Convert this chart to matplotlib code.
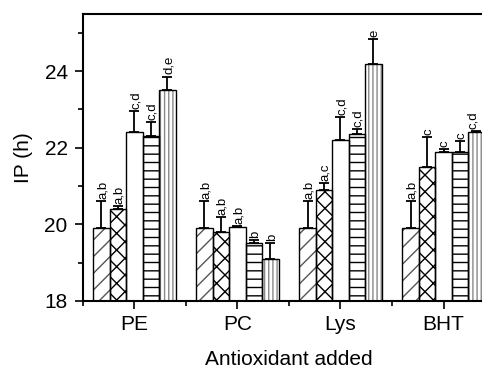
import matplotlib
matplotlib.use("Agg")
import matplotlib.pyplot as plt
import numpy as np

plt.rcParams["font.family"] = ["Liberation Sans", "DejaVu Sans"]

antioxidants = ["PE", "PC", "Lys", "BHT"]

# induction period (h) per antioxidant, five concentration levels each
ip_level1 = [19.9, 19.9, 19.9, 19.9]
ip_level2 = [20.4, 19.8, 20.9, 21.5]
ip_level3 = [22.4, 19.92, 22.2, 21.9]
ip_level4 = [22.3, 19.5, 22.37, 21.9]
ip_level5 = [23.5, 19.1, 24.2, 22.4]

sd_level1 = [0.7, 0.7, 0.7, 0.7]
sd_level2 = [0.08, 0.38, 0.18, 0.78]
sd_level3 = [0.57, 0.03, 0.6, 0.07]
sd_level4 = [0.38, 0.1, 0.13, 0.27]
sd_level5 = [0.36, 0.4, 0.65, 0.03]

letters_level1 = ["a,b", "a,b", "a,b", "a,b"]
letters_level2 = ["a,b", "a,b", "a,c", "c"]
letters_level3 = ["c,d", "a,b", "c,d", "c"]
letters_level4 = ["c,d", "b", "c,d", "c"]
letters_level5 = ["d,e", "b", "e", "c,d"]

series = [
    (ip_level1, sd_level1, letters_level1, "//", "#555555"),
    (ip_level2, sd_level2, letters_level2, "xx", "black"),
    (ip_level3, sd_level3, letters_level3, "", "black"),
    (ip_level4, sd_level4, letters_level4, "--", "black"),
    (ip_level5, sd_level5, letters_level5, "||||", "#888888"),
]

fig = plt.figure(figsize=(4.82, 3.71), dpi=100)
ax = fig.add_axes([0.172, 0.189, 0.855, 0.774])

x = np.arange(1, len(antioxidants) + 1)
width = 0.16
for i, (vals, errs, letters, hatch, hcolor) in enumerate(series):
    pos = x + (i - 2) * width
    # hatch layer in its own colour, then a plain black outline on top
    ax.bar(pos, vals, width, color="white", edgecolor=hcolor, hatch=hatch,
           linewidth=0, zorder=2)
    ax.bar(pos, vals, width, fill=False, edgecolor="black", linewidth=1.0,
           zorder=3)
    ax.errorbar(pos, vals, yerr=[np.zeros(len(vals)), errs], fmt="none",
                ecolor="black", elinewidth=1.3, capsize=3.5, capthick=1.3,
                zorder=4)
    for p, v, e, t in zip(pos, vals, errs, letters):
        # the last bar runs past the figure edge; keep its letters inside
        dx = -2.5 if p > 4.2 else 1
        ax.annotate(t, (p, v + e), xytext=(dx, 1.5), textcoords="offset points",
                    rotation=90, ha="center", va="bottom", fontsize=9.5)

ax.set_xlim(0.5, 4.5)
ax.set_ylim(18, 25.5)
ax.set_xticks(x)
ax.set_xticklabels(antioxidants)
ax.set_xticks(np.arange(0.5, 5.0, 1.0), minor=True)
ax.set_yticks([18, 20, 22, 24])
ax.set_yticks([19, 21, 23, 25], minor=True)
ax.tick_params(which="major", direction="out", length=6, width=1.2,
               labelsize=15)
ax.tick_params(axis="y", which="major", pad=5)
ax.tick_params(axis="x", which="major", pad=4)
ax.tick_params(which="minor", direction="out", length=3.5, width=1.2)
for s in ax.spines.values():
    s.set_linewidth(1.5)

ax.set_xlabel("Antioxidant added", fontsize=15, labelpad=12)
ax.set_ylabel("IP (h)", fontsize=15, labelpad=8)

fig.savefig("out.png", dpi=100)
